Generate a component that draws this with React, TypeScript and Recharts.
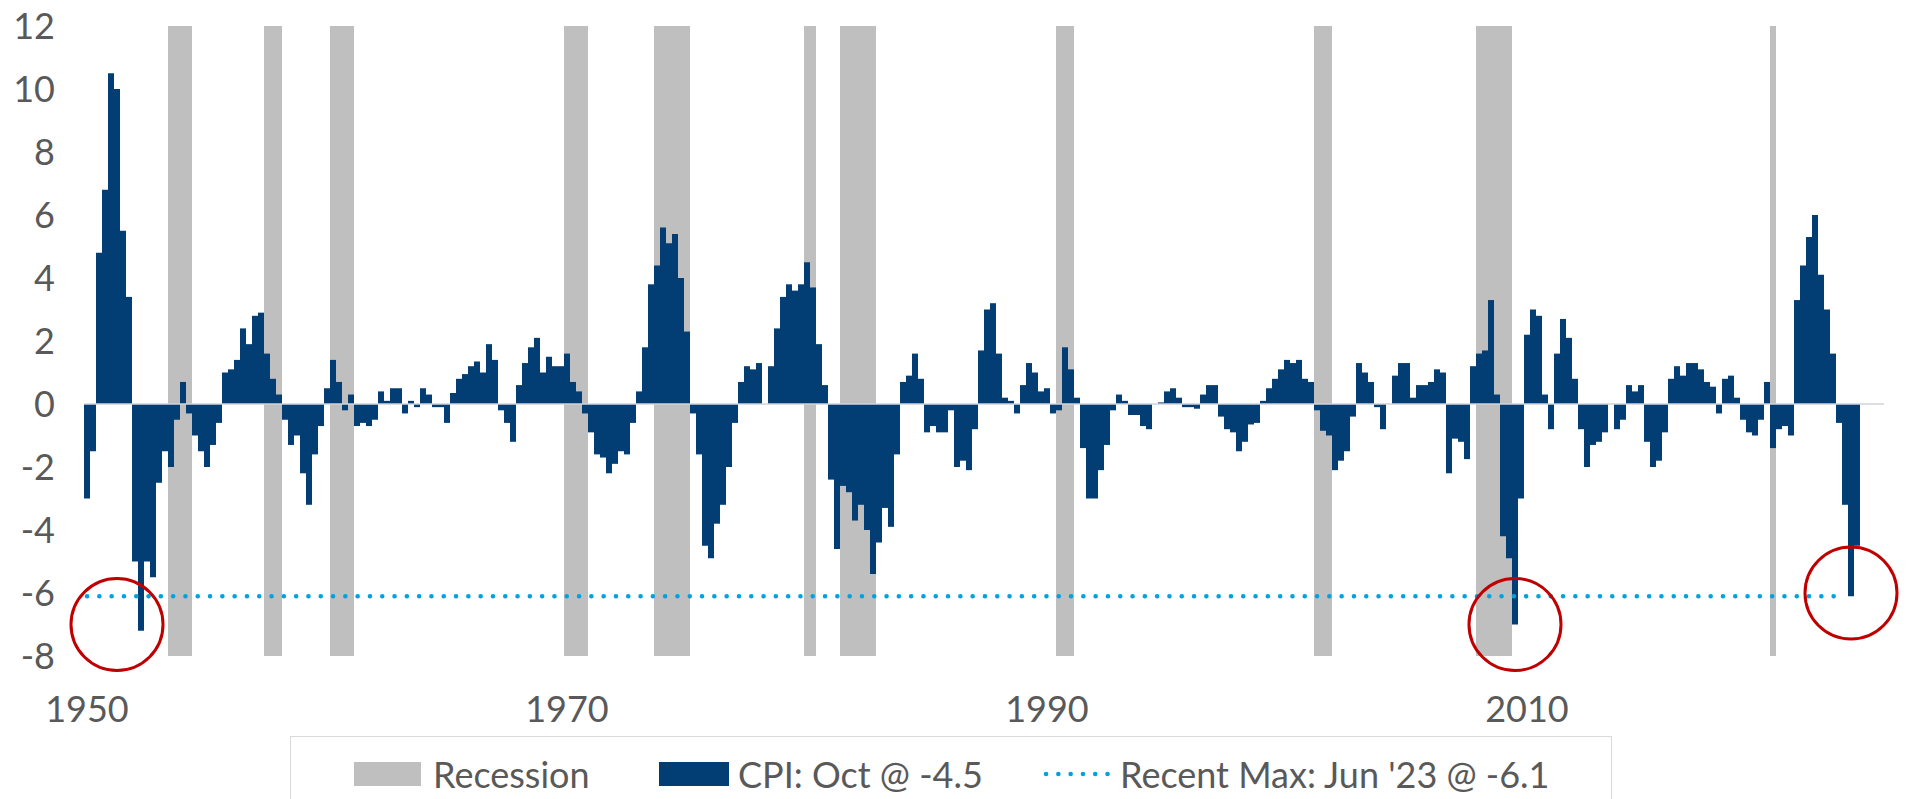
import React from "react";
import {
  ComposedChart,
  Bar,
  XAxis,
  YAxis,
  ReferenceArea,
  ReferenceLine,
  ReferenceDot,
} from "recharts";

// quarterly values, one row per year (Q1..Q4)
const cpi1950s = [
  -3.0, -1.5, 4.8, 6.8,
  10.5, 10.0, 5.5, 3.4,
  -5.0, -7.2, -5.0, -5.5,
  -2.5, -1.5, -2.0, -0.5,
  0.7, -0.3, -1.0, -1.5,
  -2.0, -1.3, -0.6, 1.0,
  1.1, 1.4, 2.4, 1.9,
  2.8, 2.9, 1.6, 0.8,
  0.3, -0.5, -1.3, -1.0,
  -2.2, -3.2, -1.6, -0.7,
];
const cpi1960s = [
  0.5, 1.4, 0.7, -0.2,
  0.3, -0.7, -0.6, -0.7,
  -0.5, 0.4, 0.1, 0.5,
  0.5, -0.3, 0.1, -0.1,
  0.5, 0.3, -0.1, -0.1,
  -0.6, 0.35, 0.8, 0.95,
  1.2, 1.35, 1.0, 1.9,
  1.4, -0.2, -0.6, -1.2,
  0.6, 1.3, 1.8, 2.1,
  1.0, 1.5, 1.2, 1.2,
];
const cpi1970s = [
  1.6, 0.7, 0.4, -0.3,
  -0.9, -1.6, -1.7, -2.2,
  -1.9, -1.5, -1.6, -0.6,
  0.4, 1.8, 3.8, 4.4,
  5.6, 5.1, 5.4, 4.0,
  2.3, -0.3, -1.6, -4.5,
  -4.9, -3.8, -3.2, -2.0,
  -0.6, 0.7, 1.2, 1.1,
  1.3, 0.0, 1.2, 2.4,
  3.4, 3.8, 3.6, 3.8,
];
const cpi1980s = [
  4.5, 3.7, 1.9, 0.6,
  -2.4, -4.6, -2.6, -2.8,
  -3.7, -3.2, -4.0, -5.4,
  -4.4, -3.3, -3.9, -1.6,
  0.7, 0.9, 1.6, 0.8,
  -0.9, -0.7, -0.9, -0.9,
  -0.2, -2.0, -1.8, -2.1,
  -0.8, 1.7, 3.0, 3.2,
  1.6, 0.2, 0.1, -0.3,
  0.6, 1.3, 1.0, 0.4,
];
const cpi1990s = [
  0.5, -0.3, -0.2, 1.8,
  1.1, 0.2, -1.4, -3.0,
  -3.0, -2.1, -1.3, -0.2,
  0.3, 0.1, -0.35, -0.35,
  -0.7, -0.8, 0.0, 0.05,
  0.4, 0.5, 0.2, -0.1,
  -0.1, -0.15, 0.3, 0.6,
  0.6, -0.4, -0.8, -0.9,
  -1.5, -1.2, -0.65, -0.6,
  0.1, 0.5, 0.8, 1.1,
];
const cpi2000s = [
  1.4, 1.3, 1.4, 0.8,
  0.7, -0.2, -0.85, -1.0,
  -2.1, -1.8, -1.5, -0.4,
  1.3, 1.0, 0.7, -0.1,
  -0.8, 0.0, 0.9, 1.3,
  1.3, 0.2, 0.6, 0.6,
  0.7, 1.1, 1.0, -2.2,
  -1.1, -1.2, -1.75, 1.2,
  1.6, 1.7, 3.3, 0.3,
  -4.2, -4.9, -7.0, -3.0,
];
const cpi2010s = [
  2.2, 3.0, 2.8, 0.3,
  -0.8, 1.6, 2.7, 2.1,
  0.8, -0.8, -2.0, -1.3,
  -1.2, -0.9, 0.0, -0.8,
  -0.5, 0.6, 0.4, 0.6,
  -1.2, -2.0, -1.8, -0.9,
  0.8, 1.2, 0.9, 1.3,
  1.3, 1.1, 0.7, 0.55,
  -0.3, 0.8, 0.9, 0.2,
  -0.5, -0.9, -1.0, -0.5,
];
const cpi2020s = [
  0.7, -1.4, -0.8, -0.7,
  -1.0, 3.3, 4.4, 5.3,
  6.0, 4.1, 3.0, 1.6,
  -0.6, -3.2, -6.1, -4.5,
];

const firstYear = 1950;
const lastYear = 2024; // axis runs a year past the data

const recessionStart = ["1953Q3", "1957Q3", "1960Q2", "1970Q1", "1973Q4", "1980Q1", "1981Q3", "1990Q3", "2001Q2", "2008Q1", "2020Q2"];
const recessionEnd = ["1954Q2", "1958Q1", "1961Q1", "1970Q4", "1975Q1", "1980Q2", "1982Q4", "1991Q1", "2001Q4", "2009Q2", "2020Q2"];

const xTickLabels = ["1950", "1970", "1990", "2010"];
const yTicks = [-8, -6, -4, -2, 0, 2, 4, 6, 8, 10, 12];

const recentMax = -6.1;
const recentMaxFrom = "1950Q1";
const recentMaxTo = "2023Q2";

const circledQuarters = ["1951Q2", "2009Q3", "2023Q3"];
const circledValues = [-7.0, -7.0, -6.0];

const legendRecession = "Recession";
const legendCpi = "CPI: Oct @ -4.5";
const legendMax = "Recent Max: Jun '23 @ -6.1";

const cpiValues = [
  ...cpi1950s, ...cpi1960s, ...cpi1970s, ...cpi1980s,
  ...cpi1990s, ...cpi2000s, ...cpi2010s, ...cpi2020s,
];

const data: { quarter: string; cpi: number | null }[] = [];
for (let y = firstYear; y <= lastYear; y++) {
  for (let q = 1; q <= 4; q++) {
    const i = data.length;
    data.push({ quarter: `${y}Q${q}`, cpi: i < cpiValues.length ? cpiValues[i] : null });
  }
}

const NAVY = "#023E73";
const GREY = "#BFBFBF";
const SKY = "#00A3E0";
const TEXT = "#595959";

const legendText: React.CSSProperties = {
  position: "absolute",
  top: 37,
  transform: "translateY(-50%)",
  fontSize: 36,
  lineHeight: 1,
  color: TEXT,
  whiteSpace: "nowrap",
};

export default function App() {
  return (
    <div
      style={{
        position: "absolute",
        left: 0,
        top: 0,
        width: 1908,
        height: 799,
        overflow: "hidden",
        background: "#fff",
        fontFamily: "Lato, sans-serif",
      }}
    >
      <ComposedChart
        width={1908}
        height={799}
        data={data}
        margin={{ top: 26, right: 24, bottom: 83, left: 0 }}
        barCategoryGap={0}
        barGap={0}
      >
        <XAxis
          dataKey="quarter"
          ticks={xTickLabels.map((y) => `${y}Q1`)}
          tickFormatter={(q: string) => q.slice(0, 4)}
          axisLine={false}
          tickLine={false}
          height={60}
          tickMargin={34}
          tick={{ fontSize: 36, fill: TEXT }}
        />
        <YAxis
          domain={[-8, 12]}
          ticks={yTicks}
          interval={0}
          width={84}
          axisLine={false}
          tickLine={false}
          tickMargin={23}
          tick={{ fontSize: 36, fill: TEXT }}
        />
        {recessionStart.map((s, i) => (
          <ReferenceArea
            key={s}
            x1={s}
            x2={recessionEnd[i]}
            y1={-8}
            y2={12}
            fill={GREY}
            fillOpacity={1}
            stroke="none"
          />
        ))}
        <Bar dataKey="cpi" fill={NAVY} isAnimationActive={false} />
        <ReferenceLine y={0} stroke="#D0D3D8" strokeWidth={1.5} />
        <ReferenceLine
          segment={[
            { x: recentMaxFrom, y: recentMax },
            { x: recentMaxTo, y: recentMax },
          ]}
          stroke={SKY}
          strokeWidth={4.5}
          strokeDasharray="0.1 12.2"
          strokeLinecap="round"
        />
        {circledQuarters.map((q, i) => (
          <ReferenceDot
            key={q}
            x={q}
            y={circledValues[i]}
            r={46}
            fill="none"
            stroke="#C00000"
            strokeWidth={3}
          />
        ))}
      </ComposedChart>

      {/* legend box */}
      <div
        style={{
          position: "absolute",
          left: 290,
          top: 736,
          width: 1322,
          height: 90,
          border: "1.5px solid #D9D9D9",
          boxSizing: "border-box",
        }}
      >
        <span style={{ position: "absolute", left: 63, top: 25, width: 67, height: 24, background: GREY }} />
        <span style={{ ...legendText, left: 142 }}>{legendRecession}</span>
        <span style={{ position: "absolute", left: 368, top: 25, width: 70, height: 24, background: NAVY }} />
        <span style={{ ...legendText, left: 447 }}>{legendCpi}</span>
        <svg style={{ position: "absolute", left: 752, top: 32 }} width={70} height={10}>
          <line x1={3} y1={5} x2={67} y2={5} stroke={SKY} strokeWidth={4.5} strokeDasharray="0.1 12.2" strokeLinecap="round" />
        </svg>
        <span style={{ ...legendText, left: 829 }}>{legendMax}</span>
      </div>
    </div>
  );
}
